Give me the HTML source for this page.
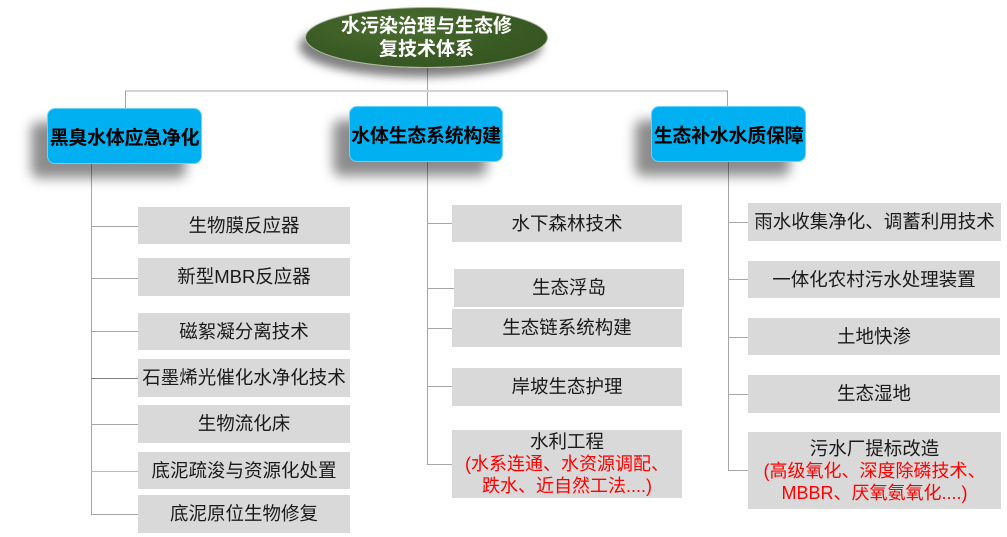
<!DOCTYPE html>
<html>
<head>
<meta charset="utf-8">
<style>
  html,body{margin:0;padding:0;background:#fff;}
  body{width:1007px;height:537px;position:relative;overflow:hidden;
       font-family:"Liberation Sans","Noto Sans CJK SC","WenQuanYi Zen Hei",sans-serif;}
  .l{position:absolute;background:#a6a6a6;}
  .h{height:1px;}
  .v{width:1px;}
  .item{position:absolute;background:#d9d9d9;color:#1a1a1a;font-size:18.5px;
        display:flex;align-items:center;justify-content:center;white-space:nowrap;
        text-align:center;line-height:22px;}
  .multi{flex-direction:column;}
  .red{color:#ff0000;font-size:18px;}
  .hdr{position:absolute;background:#00b0f0;border:1px solid #66d4fa;border-radius:8px;
       box-sizing:border-box;color:#000;font-weight:bold;font-size:19px;
       display:flex;align-items:center;justify-content:center;white-space:nowrap;
       box-shadow:-16px 14px 12px rgba(0,0,0,0.45);letter-spacing:-0.3px;}
  .ell{position:absolute;left:305px;top:7px;width:243px;height:61px;border-radius:50%;
       background:radial-gradient(ellipse at 40% 30%,#4a6e30 0%,#3a5a24 55%,#32501f 100%);
       border:1px solid #a9b89a;box-sizing:border-box;
       box-shadow:-6px 9px 9px rgba(0,0,0,0.5);color:#fff;font-weight:bold;font-size:19px;
       text-align:center;line-height:23px;padding-top:7px;}
</style>
</head>
<body>
<!-- top connectors -->
<div class="l v" style="left:427px;top:60px;height:46px;"></div>
<div class="l" style="left:125px;top:90px;width:603px;height:2px;background:#d4d4d4;"></div>
<div class="l v" style="left:125px;top:91px;height:17px;"></div>
<div class="l v" style="left:727px;top:91px;height:15px;"></div>

<!-- ellipse -->
<div class="ell">水污染治理与生态修<br>复技术体系</div>

<!-- left trunk -->
<div class="l v" style="left:91px;top:164px;height:351px;"></div>
<div class="l h" style="left:91px;top:226px;width:47px;"></div>
<div class="l h" style="left:91px;top:278px;width:47px;"></div>
<div class="l h" style="left:91px;top:331px;width:47px;"></div>
<div class="l h" style="left:91px;top:378px;width:47px;background:#7f7f7f;"></div>
<div class="l h" style="left:91px;top:424px;width:47px;"></div>
<div class="l h" style="left:91px;top:471px;width:47px;background:#9dc3e6;"></div>
<div class="l h" style="left:91px;top:514px;width:47px;"></div>

<!-- middle trunk -->
<div class="l v" style="left:427px;top:162px;height:302px;"></div>
<div class="l h" style="left:427px;top:223px;width:25px;"></div>
<div class="l h" style="left:427px;top:288px;width:27px;"></div>
<div class="l h" style="left:427px;top:328px;width:25px;"></div>
<div class="l h" style="left:427px;top:386px;width:25px;"></div>
<div class="l h" style="left:427px;top:464px;width:25px;"></div>

<!-- right trunk -->
<div class="l v" style="left:728px;top:162px;height:308px;"></div>
<div class="l h" style="left:728px;top:222px;width:20px;"></div>
<div class="l h" style="left:728px;top:279px;width:20px;"></div>
<div class="l h" style="left:728px;top:337px;width:20px;"></div>
<div class="l h" style="left:728px;top:394px;width:20px;"></div>
<div class="l h" style="left:728px;top:470px;width:20px;"></div>

<!-- header boxes -->
<div class="hdr" style="left:47px;top:108px;width:155px;height:56px;">黑臭水体应急净化</div>
<div class="hdr" style="left:349px;top:106px;width:154px;height:56px;">水体生态系统构建</div>
<div class="hdr" style="left:651px;top:106px;width:155px;height:56px;">生态补水水质保障</div>

<!-- left items -->
<div class="item" style="left:138px;top:207px;width:212px;height:37px;">生物膜反应器</div>
<div class="item" style="left:138px;top:258px;width:212px;height:38px;">新型MBR反应器</div>
<div class="item" style="left:138px;top:313px;width:212px;height:37px;">磁絮凝分离技术</div>
<div class="item" style="left:138px;top:359px;width:212px;height:38px;">石墨烯光催化水净化技术</div>
<div class="item" style="left:138px;top:405px;width:212px;height:38px;">生物流化床</div>
<div class="item" style="left:138px;top:452px;width:212px;height:37px;">底泥疏浚与资源化处置</div>
<div class="item" style="left:138px;top:495px;width:212px;height:38px;">底泥原位生物修复</div>

<!-- middle items -->
<div class="item" style="left:452px;top:205px;width:230px;height:37px;">水下森林技术</div>
<div class="item" style="left:454px;top:269px;width:230px;height:38px;">生态浮岛</div>
<div class="item" style="left:452px;top:309px;width:230px;height:38px;">生态链系统构建</div>
<div class="item" style="left:452px;top:368px;width:230px;height:38px;">岸坡生态护理</div>
<div class="item multi" style="left:452px;top:430px;width:230px;height:68px;">
  <div>水利工程</div>
  <div class="red">(水系连通、水资源调配、</div>
  <div class="red">跌水、近自然工法....)</div>
</div>

<!-- right items -->
<div class="item" style="left:748px;top:203px;width:253px;height:38px;">雨水收集净化、调蓄利用技术</div>
<div class="item" style="left:748px;top:261px;width:252px;height:37px;">一体化农村污水处理装置</div>
<div class="item" style="left:748px;top:318px;width:252px;height:37px;">土地快渗</div>
<div class="item" style="left:748px;top:375px;width:252px;height:38px;">生态湿地</div>
<div class="item multi" style="left:748px;top:432px;width:253px;height:77px;">
  <div>污水厂提标改造</div>
  <div class="red">(高级氧化、深度除磷技术、</div>
  <div class="red">MBBR、厌氧氨氧化....)</div>
</div>
</body>
</html>
